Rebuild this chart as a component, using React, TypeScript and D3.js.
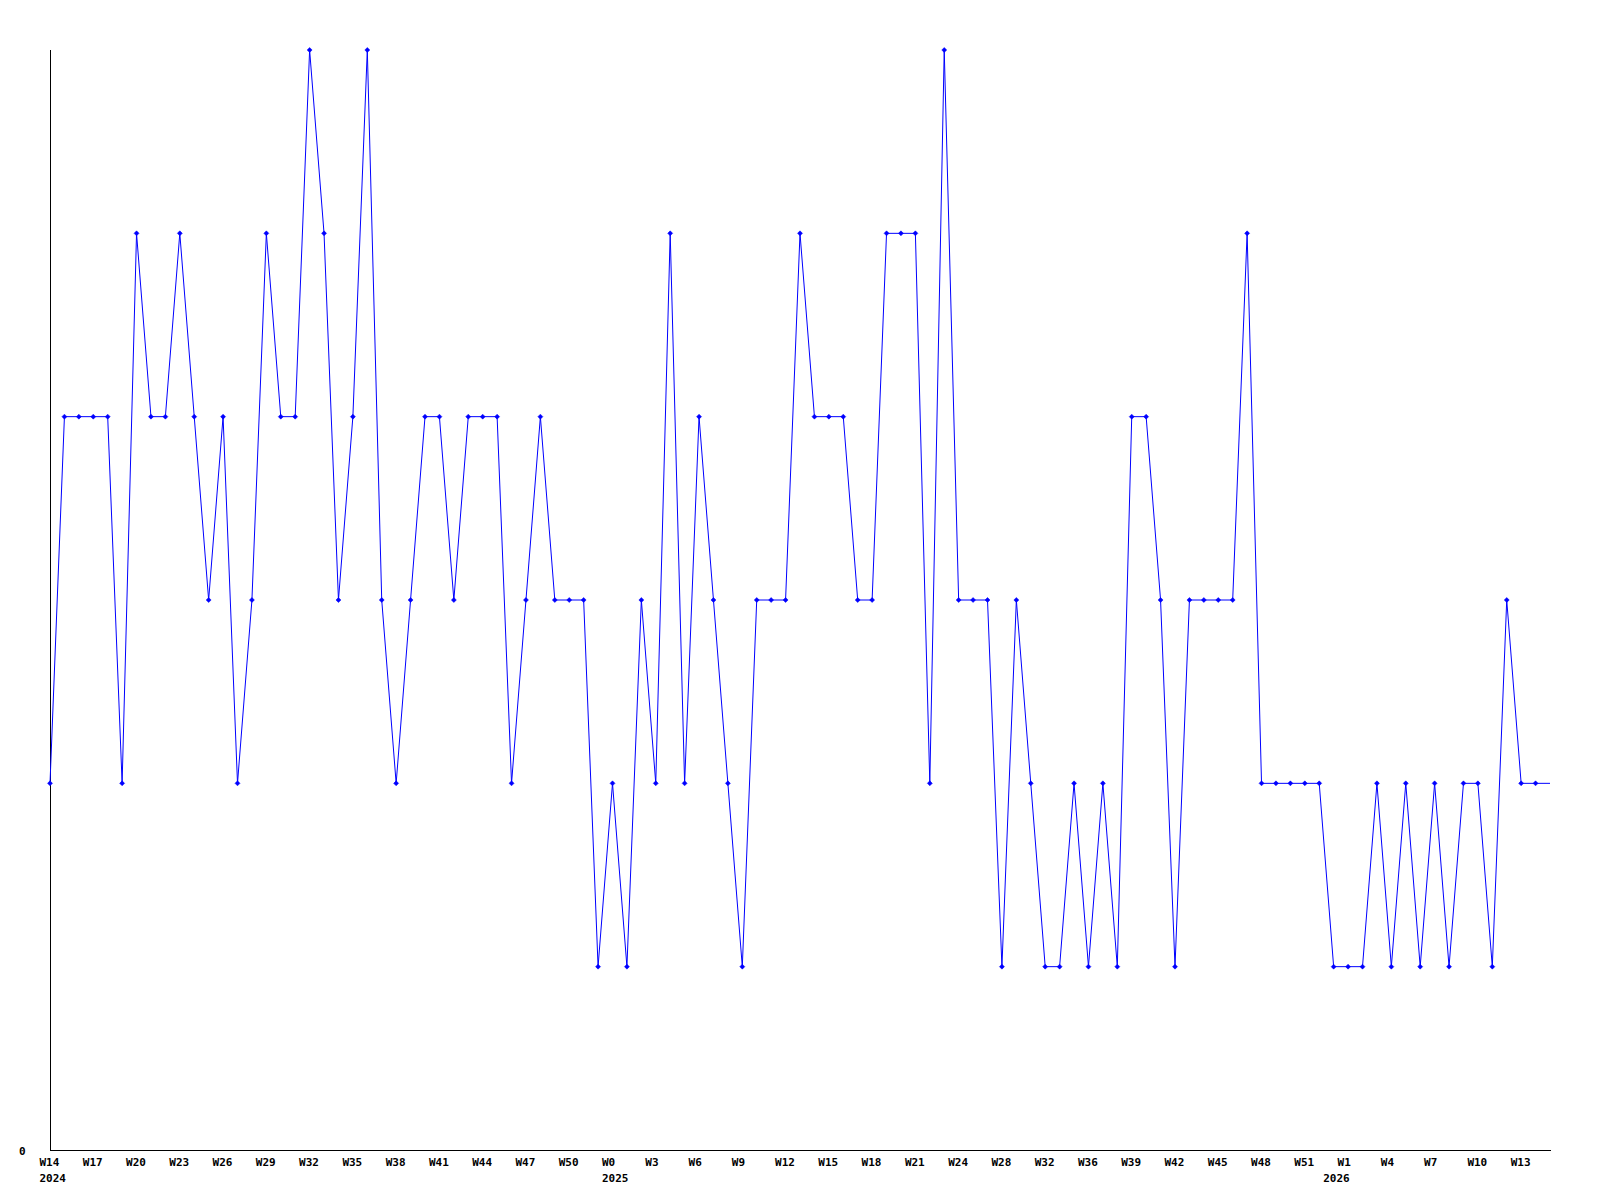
import React from "react";
import * as d3 from "d3";

// Weekly values (index 0 = 2024 W14 ... index 104 = 2026 W15-ish, last point still open)
const values: number[] = [
  2, 4, 4, 4, 4, 2, 5, 4, 4, 5, 4, 3, 4, 2, 3, 5, 4, 4, 6, 5,
  3, 4, 6, 3, 2, 3, 4, 4, 3, 4, 4, 4, 2, 3, 4, 3, 3, 3, 1, 2,
  1, 3, 2, 5, 2, 4, 3, 2, 1, 3, 3, 3, 5, 4, 4, 4, 3, 3, 5, 5,
  5, 2, 6, 3, 3, 3, 1, 3, 2, 1, 1, 2, 1, 2, 1, 4, 4, 3, 1, 3,
  3, 3, 3, 5, 2, 2, 2, 2, 2, 1, 1, 1, 2, 1, 2, 1, 2, 1, 2, 2,
  1, 3, 2, 2, 2,
];

// Tick labels shown every 3rd point
const tickLabels: string[] = [
  "W14", "W17", "W20", "W23", "W26", "W29", "W32", "W35", "W38", "W41",
  "W44", "W47", "W50", "W0", "W3", "W6", "W9", "W12", "W15", "W18",
  "W21", "W24", "W28", "W32", "W36", "W39", "W42", "W45", "W48", "W51",
  "W1", "W4", "W7", "W10", "W13",
];
const tickStep = 3;

// Year labels placed at the first point of each year
const yearLabels: string[] = ["2024", "2025", "2026"];
const yearIndices: number[] = [0, 39, 89];

const yTickLabels: string[] = ["0"];

const W = 1600;
const H = 1200;
const left = 50;
const right = 1550;
const top = 50;
const bottom = 1150;
const FONT = "'DejaVu Sans Mono', monospace";

export default function App() {
  const x = d3.scaleLinear().domain([0, values.length - 1]).range([left, right]);
  const y = d3.scaleLinear().domain([0, 6]).range([bottom, top]);

  const line = d3
    .line<number>()
    .x((_, i) => x(i))
    .y((d) => y(d));

  const pathD = line(values) || "";
  const markerVals = values.slice(0, values.length - 1);

  return (
    <svg
      width={W}
      height={H}
      style={{ position: "absolute", left: 0, top: 0, background: "#fff" }}
    >
      <rect x={0} y={0} width={W} height={H} fill="#fff" />
      {/* axes */}
      <line
        x1={left + 0.5}
        x2={left + 0.5}
        y1={top}
        y2={bottom + 0.5}
        stroke="#000"
        strokeWidth={1}
        shapeRendering="crispEdges"
      />
      <line
        x1={left}
        x2={right + 1}
        y1={bottom + 0.5}
        y2={bottom + 0.5}
        stroke="#000"
        strokeWidth={1}
        shapeRendering="crispEdges"
      />
      {/* y label */}
      {yTickLabels.map((t, i) => (
        <text
          key={"y" + i}
          x={19}
          y={y(0) + 4.5}
          fontFamily={FONT}
          fontWeight="bold"
          fontSize={11}
          fill="#000"
        >
          {t}
        </text>
      ))}
      {/* x tick labels */}
      {tickLabels.map((t, i) => (
        <text
          key={"t" + i}
          x={x(i * tickStep) - 10.5}
          y={1165.5}
          fontFamily={FONT}
          fontWeight="bold"
          fontSize={11}
          fill="#000"
        >
          {t}
        </text>
      ))}
      {yearLabels.map((t, i) => (
        <text
          key={"yr" + i}
          x={x(yearIndices[i]) - 10.5}
          y={1181.5}
          fontFamily={FONT}
          fontWeight="bold"
          fontSize={11}
          fill="#000"
        >
          {t}
        </text>
      ))}
      {/* series */}
      <path d={pathD} fill="none" stroke="#0000ff" strokeWidth={1} />
      {markerVals.map((v, i) => {
        const cx = x(i);
        const cy = y(v);
        return (
          <path
            key={"m" + i}
            d={`M${cx - 2.5},${cy}L${cx},${cy - 2.5}L${cx + 2.5},${cy}L${cx},${cy + 2.5}Z`}
            fill="#0000ff"
            stroke="#0000ff"
            strokeWidth={0.5}
          />
        );
      })}
    </svg>
  );
}
